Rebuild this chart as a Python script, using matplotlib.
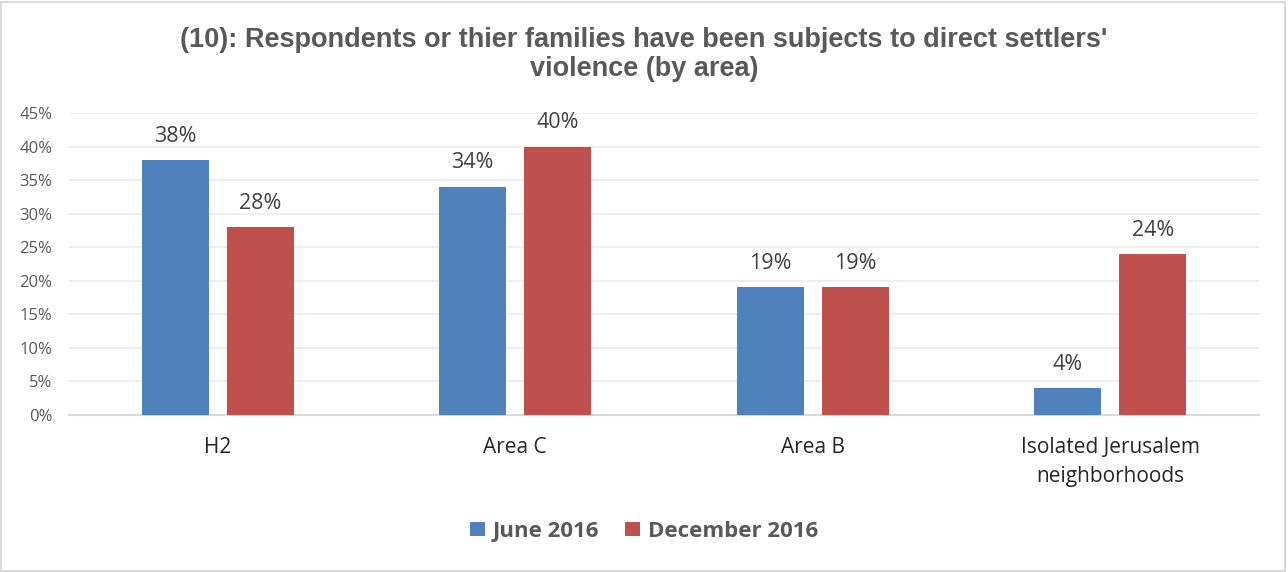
import matplotlib
matplotlib.use("Agg")
import matplotlib.pyplot as plt
from matplotlib.patches import Rectangle
import numpy as np

categories = ["H2", "Area C", "Area B", "Isolated Jerusalem\nneighborhoods"]
series_names = ["June 2016", "December 2016"]
june = [38, 34, 19, 4]
december = [28, 40, 19, 24]
yticks = [0, 5, 10, 15, 20, 25, 30, 35, 40, 45]
colors = ["#4F81BD", "#C0504D"]

plt.rcParams['font.family'] = ['Open Sans', 'DejaVu Sans']

fig = plt.figure(figsize=(12.88, 5.72), dpi=100)
ax = fig.add_axes([0.0536, 0.2745, 0.9775 - 0.0536, 0.8024 - 0.2745])

x = np.arange(len(categories))
w = 0.225
off = 0.143
for vals, c, o, name in [(june, colors[0], -off, series_names[0]), (december, colors[1], off, series_names[1])]:
    bars = ax.bar(x + o, vals, width=w, color=c, label=name, zorder=3)
    for b, v in zip(bars, vals):
        ax.text(b.get_x() + b.get_width() / 2, v + 2.0, f"{v}%", ha="center", va="bottom",
                fontsize=15.5, color="#404040")

ax.set_xlim(-0.5, 3.5)
ax.set_ylim(0, 45)
ax.set_yticks(yticks)
ax.set_yticklabels([f"{t}%" for t in yticks], fontsize=12, color="#595959")
ax.set_xticks(x)
ax.set_xticklabels(categories, fontsize=15, color="#262626", linespacing=1.5)
ax.tick_params(axis="both", length=0)
ax.tick_params(axis="x", pad=16)
ax.tick_params(axis="y", pad=12)
ax.grid(axis="y", color="#EBEBEB", linewidth=1.2, zorder=0)
for s in ["top", "right", "left"]:
    ax.spines[s].set_visible(False)
ax.spines["bottom"].set_color("#D9D9D9")
ax.spines["bottom"].set_linewidth(1.5)

fig.text(0.5, 0.953, "(10): Respondents or thier families have been subjects to direct settlers'\nviolence (by area)",
         ha="center", va="top", fontsize=19.5, fontweight="bold", color="#595959",
         family=["Liberation Sans Narrow", "Liberation Sans", "DejaVu Sans"], linespacing=1.17)

leg = fig.legend(loc="center", bbox_to_anchor=(0.5, 0.071), ncol=2, frameon=False,
                 prop={"size": 16, "weight": "bold"}, handlelength=0.65, handleheight=0.65,
                 handletextpad=0.35, columnspacing=1.2)
for t in leg.get_texts():
    t.set_color("#595959")

fig.patches.append(Rectangle((0.001, 0.002), 0.997, 0.995, transform=fig.transFigure,
                             fill=False, edgecolor="#D9D9D9", linewidth=1.5))

fig.savefig("out.png", dpi=100)
